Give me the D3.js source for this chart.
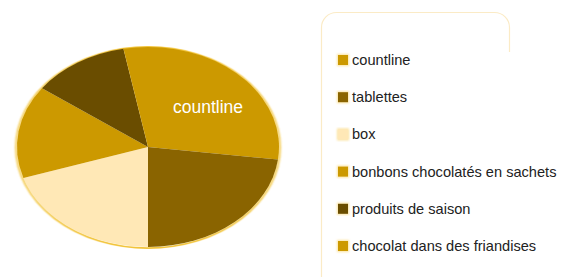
<!DOCTYPE html>
<html><head><meta charset="utf-8">
<script src="https://cdn.jsdelivr.net/npm/d3@7"></script>
<style>body{margin:0;background:#fff}svg{display:block}</style>
</head><body>
<svg id="c" width="579" height="277"></svg>
<script>
const categories = ["countline","tablettes","box","bonbons chocolatés en sachets","produits de saison","chocolat dans des friandises"];
const values = [27, 23, 20, 15, 12, 3];
const colors = ["#CC9900","#8A6400","#FFE8B6","#CC9900","#6A4D00","#CC9900"];

const svg = d3.select("#c");
const defs = svg.append("defs");
defs.append("filter").attr("id","blur").append("feGaussianBlur").attr("stdDeviation",0.7);
defs.append("filter").attr("id","blur2").append("feGaussianBlur").attr("stdDeviation",0.8);

// legend box
svg.append("rect").attr("x",321.5).attr("y",12.5).attr("width",188).attr("height",290)
  .attr("rx",15).attr("fill","#fff").attr("stroke","#FBEBC6").attr("stroke-width",1.2);
svg.append("rect").attr("x",330).attr("y",52).attr("width",260).attr("height",240).attr("fill","#fff");

const cx = 148, cy = 147, rx = 131, ry = 100;
const g = svg.append("g").attr("transform",`translate(${cx},${cy}) scale(${rx/ry},1)`);
g.append("ellipse").attr("cx",0).attr("cy",0.5).attr("rx",ry+0.6).attr("ry",ry+0.6)
  .attr("fill","none").attr("stroke","#F2C43A").attr("stroke-width",1.6).attr("filter","url(#blur)");
const pie = d3.pie().sort(null).value(d=>d);
const arc = d3.arc().innerRadius(0).outerRadius(ry);
g.selectAll("path.s").data(pie(values)).join("path").attr("class","s")
  .attr("d",arc).attr("fill",(d,i)=>colors[i]);

svg.append("text").attr("x",208).attr("y",113).attr("text-anchor","middle")
  .attr("font-family","Liberation Sans, Arial, sans-serif").attr("font-size",17.5)
  .attr("fill","#fff").text("countline");

// legend
const ly = d3.scalePoint().domain(categories).range([60,246]);
const lg = svg.append("g");
const items = lg.selectAll("g").data(categories).join("g")
  .attr("transform",d=>`translate(338,${ly(d)})`);
items.append("rect").attr("x",-1).attr("y",-6).attr("width",12).attr("height",12)
  .attr("fill","#FBE3A0").attr("filter","url(#blur2)");
items.append("rect").attr("x",0).attr("y",-5).attr("width",10).attr("height",10)
  .attr("fill",(d,i)=>colors[i]);
items.append("text").attr("x",14).attr("y",5)
  .attr("font-family","Liberation Sans, Arial, sans-serif").attr("font-size",14.6)
  .attr("fill","#222").text(d=>d);
</script>
</body></html>
